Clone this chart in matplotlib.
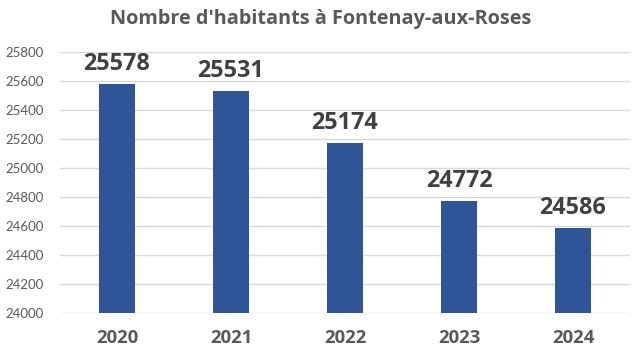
import matplotlib
matplotlib.use("Agg")
import matplotlib.pyplot as plt

years = ["2020", "2021", "2022", "2023", "2024"]
population = [25578, 25531, 25174, 24772, 24586]
y_ticks = [24000, 24200, 24400, 24600, 24800, 25000, 25200, 25400, 25600, 25800]
title = "Nombre d'habitants à Fontenay-aux-Roses"

plt.rcParams['font.family'] = ['Lato', 'DejaVu Sans']

fig = plt.figure(figsize=(6.32, 3.56), dpi=100)
ax = fig.add_axes([60/632, 1 - 312.7/356, 570/632, (312.7 - 52.3)/356])

x = list(range(len(years)))
bars = ax.bar(x, population, width=0.316, color="#2F5597", zorder=3)
ax.set_xlim(-0.5, len(years) - 0.5)
ax.set_ylim(24000, 25800)
ax.set_yticks(y_ticks)
ax.set_yticklabels([str(v) for v in y_ticks], fontsize=9.5, color="#595959")
ax.set_xticks(x)
ax.set_xticklabels(years, fontsize=13.3, fontweight="bold", color="#595959",
                   family=['Open Sans', 'DejaVu Sans'])
ax.tick_params(axis="y", length=0, pad=12)
ax.tick_params(axis="x", length=0, pad=12)
ax.grid(axis="y", color="#D9D9D9", linewidth=1, zorder=0)
for s in ax.spines.values():
    s.set_visible(False)

for xi, v in zip(x, population):
    ax.annotate(str(v), (xi, v), xytext=(0, 6), textcoords="offset points",
                ha="center", va="bottom", fontsize=16.8, fontweight="bold", color="#404040",
                family=['Open Sans', 'DejaVu Sans'])

fig.text(0.508, 1 - 19/356, title, ha="center", va="center",
         fontsize=14.3, fontweight="bold", color="#595959",
         family=['Open Sans', 'DejaVu Sans'])

fig.savefig("out.png", dpi=100)
